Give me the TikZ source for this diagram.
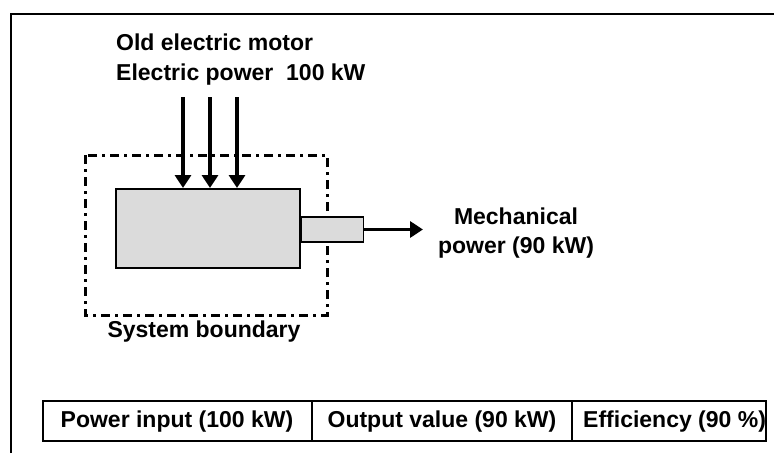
\documentclass[tikz,border=0pt]{standalone}
\usepackage{fontspec}
\setmainfont{Liberation Sans}
\usetikzlibrary{arrows.meta}
\begin{document}
\begin{tikzpicture}[x=1pt,y=-1pt,
  lbl/.style={font=\fontsize{23}{26}\selectfont\bfseries, inner sep=0pt},
  flowarrow/.style={line width=3.5pt, -{Triangle[length=13pt,width=16pt]}},
  boundary/.style={line width=3pt, dash pattern=on 9pt off 5pt on 3pt off 5pt},
  motorbox/.style={draw=black, line width=1.5pt, fill=black!14},
  cell/.style={draw=black, line width=2pt}]
\useasboundingbox (0,0) rectangle (774,453);
% outer frame (top and left edges only)
\draw[line width=2.5pt] (11,453) -- (11,14) -- (774,14);
% labels
\node[lbl, anchor=base west] (t1) at (116,50) {Old electric motor};
\node[lbl, anchor=base west] (t2) at (116,80) {Electric power\ \ 100 kW};
% system boundary
\draw[boundary] (85,155) rectangle (327,315);
% motor and shaft
\node[motorbox, minimum width=184pt, minimum height=79pt, anchor=north west, inner sep=0pt] (motor) at (115,188) {};
\node[motorbox, minimum width=62pt, minimum height=25pt, anchor=west, inner sep=0pt] (shaft) at (motor.east |- 0,229.5) {};
% input arrows
\coordinate (a1) at (183,97);
\coordinate (a2) at (210,97);
\coordinate (a3) at (237,97);
\draw[flowarrow] (a1) -- (a1 |- motor.north);
\draw[flowarrow] (a2) -- (a2 |- motor.north);
\draw[flowarrow] (a3) -- (a3 |- motor.north);
% output arrow
\coordinate (outend) at (423,230);
\draw[flowarrow] (shaft.east) -- (outend |- shaft.east);
\node[lbl, anchor=base] (m1) at (516,224) {Mechanical};
\node[lbl, anchor=base] (m2) at (516,253) {power (90 kW)};
\node[lbl, anchor=base] (sb) at (204,337) {System boundary};
% table
\draw[cell] (43,401) rectangle (766,441);
\draw[cell] (312,401) -- (312,441);
\draw[cell] (572,401) -- (572,441);
\node[lbl, anchor=base] (c1) at (177,427) {Power input (100 kW)};
\node[lbl, anchor=base] (c2) at (442,427) {Output value (90 kW)};
\node[lbl, anchor=base west] (c3) at (583,427) {Efficiency (90 \%)};
\end{tikzpicture}
\end{document}
